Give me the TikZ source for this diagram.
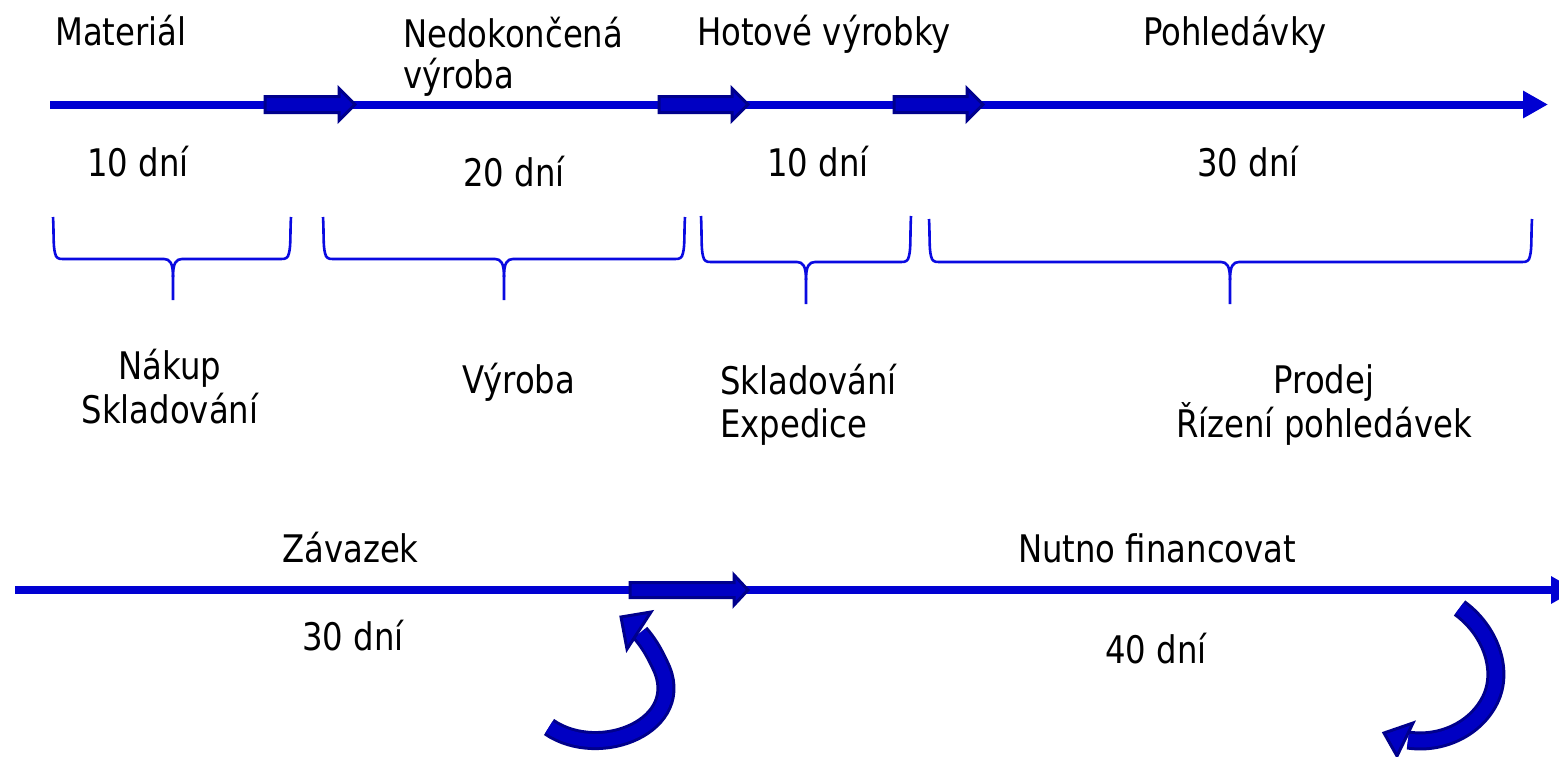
\documentclass[tikz,border=0pt]{standalone}
\usepackage{fontspec}
\setmainfont{DejaVu Sans}[FakeStretch=0.85]
\usetikzlibrary{arrows.meta}
\definecolor{lineblue}{RGB}{0,0,210}
\definecolor{braceblue}{RGB}{10,10,225}
\definecolor{blockfill}{RGB}{0,0,195}
\definecolor{blockedge}{RGB}{0,0,140}
\begin{document}
\begin{tikzpicture}[x=1pt,y=-1pt,
  lbl/.style={font=\fontsize{38}{43}\selectfont, inner sep=0pt, anchor=base west},
  clbl/.style={font=\fontsize{38}{44}\selectfont, inner sep=0pt, align=center, anchor=base},
  axis/.style={draw=lineblue, line width=8, -{Triangle[length=25pt,width=26pt]}},
  blockarrow/.style={fill=blockfill, draw=blockedge, line width=3, line join=miter},
  bracestyle/.style={draw=braceblue, line width=2.6},
  ribbonedge/.style={draw=blockedge, line width=19},
  ribbonfill/.style={draw=blockfill, line width=13},
]
\useasboundingbox (0,0) rectangle (1559,756);
\fill[white] (0,0) rectangle (1559,756);

% axes
\coordinate (t0) at (50,104.5);
\coordinate (t1) at (1548,104.5);
\coordinate (b0) at (15,590);
\coordinate (b1) at (1576,590);
\draw[axis] (t0) -- (t1);
\draw[axis] (b0) -- (b1);

% block arrows on the top axis
\foreach \x/\len in {265/90,659/89,894/89}{
  \draw[blockarrow] (\x,96.5) -- (\x+\len-16,96.5) -- (\x+\len-16,88.5) -- (\x+\len,104.5)
     -- (\x+\len-16,120.5) -- (\x+\len-16,112.5) -- (\x,112.5) -- cycle;
}
% block arrow on the bottom axis
\draw[blockarrow] (630,582.5) -- (734,582.5) -- (734,575) -- (748,590) -- (734,605)
   -- (734,597.5) -- (630,597.5) -- cycle;

% braces
\foreach \a/\b/\m/\t/\h/\d in {53/291/173/217/259/300, 323/685/504/217/259/300,
                               701/911/806/216/262/304, 929/1532/1230/219/262/304}{
  \draw[bracestyle] (\a,\t) .. controls (\a+1,\h-25) and (\a,\h-14) .. (\a+2,\h-6)
     .. controls (\a+3,\h-1) and (\a+5,\h) .. (\a+10,\h) -- (\m-9,\h)
     .. controls (\m-3,\h) and (\m,\h+4) .. (\m,\h+18) -- (\m,\d);
  \draw[bracestyle] (\b,\t) .. controls (\b-1,\h-25) and (\b,\h-14) .. (\b-2,\h-6)
     .. controls (\b-3,\h-1) and (\b-5,\h) .. (\b-10,\h) -- (\m+9,\h)
     .. controls (\m+3,\h) and (\m,\h+4) .. (\m,\h+18);
}

% curved arrows
\draw[ribbonedge] (549,727) .. controls (600,762) and (690,725) .. (660,665)
   .. controls (654,652) and (648,642) .. (640,633);
\draw[ribbonfill] (549,727) .. controls (600,762) and (690,725) .. (660,665)
   .. controls (654,652) and (648,642) .. (640,633);
\draw[blockarrow] (621,617) -- (651,612) -- (627,649) -- cycle;

\draw[ribbonedge] (1459.5,608) .. controls (1490,630) and (1505,670) .. (1490,700)
   .. controls (1475,730) and (1440,745) .. (1408,740);
\draw[ribbonfill] (1459.5,608) .. controls (1490,630) and (1505,670) .. (1490,700)
   .. controls (1475,730) and (1440,745) .. (1408,740);
\draw[blockarrow] (1384,733) -- (1413,723) -- (1397,756) -- cycle;

% labels top
\node[lbl] (mat) at (55,45) {Materiál};
\node[lbl, align=left] (ned) at (403,88) {Nedokončená\\[-2pt]výroba};
\node[lbl] (hot) at (697,45) {Hotové výrobky};
\node[lbl] (poh) at (1143,45) {Pohledávky};

\node[lbl] (d1) at (87,176) {10 dní};
\node[lbl] (d2) at (463,186) {20 dní};
\node[lbl] (d3) at (767,176) {10 dní};
\node[lbl] (d4) at (1197,176) {30 dní};

\node[clbl] (nak) at (170,423) {Nákup\\Skladování};
\node[lbl] (vyr) at (462,393) {Výroba};
\node[lbl, align=left] (skl) at (720,437) {Skladování\\Expedice};
\node[clbl] (pro) at (1324,437) {Prodej\\Řízení pohledávek};

% labels bottom
\node[lbl] (zav) at (282,562) {Závazek};
\node[lbl] (nut) at (1018,562) {Nutno financovat};
\node[lbl] (d5) at (302,650) {30 dní};
\node[lbl] (d6) at (1105,663) {40 dní};
\end{tikzpicture}
\end{document}
